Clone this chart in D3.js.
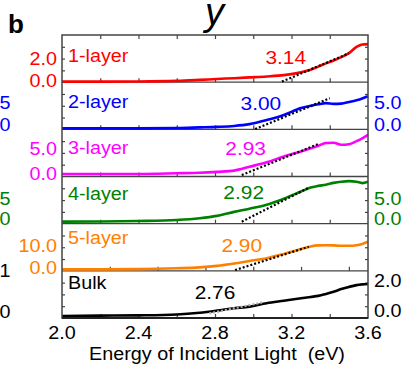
<!DOCTYPE html>
<html>
<head>
<meta charset="utf-8">
<script src="https://cdn.jsdelivr.net/npm/d3@7"></script>
<style>
  body { margin: 0; background: #fff; }
  text { font-family: "Liberation Sans", Arial, sans-serif; }
</style>
</head>
<body>
<div id="chart"></div>
<script>
// ---- data ----
const layers = ["1-layer", "2-layer", "3-layer", "4-layer", "5-layer", "Bulk"];
const colors = ["#ff0000", "#0000ff", "#ff00ff", "#008000", "#ff8000", "#000000"];

const energy = [2.0, 2.2, 2.4, 2.6, 2.72, 2.81, 2.9, 2.98, 3.07, 3.16, 3.25, 3.3, 3.34, 3.38, 3.42, 3.46, 3.5, 3.54, 3.57, 3.6];
const layer1 = [-0.05, -0.05, -0.04, 0.01, 0.1, 0.18, 0.25, 0.32, 0.4, 0.52, 0.78, 1.0, 1.27, 1.55, 1.8, 2.1, 2.45, 3.0, 3.22, 3.25];
const layer2 = [-0.74, -0.74, -0.74, -0.67, -0.52, -0.4, -0.2, 0.2, 1.12, 2.27, 3.8, 4.3, 4.65, 4.9, 4.75, 4.8, 5.15, 5.55, 5.95, 6.45];
const layer3 = [0, 0, 0, 0.14, 0.25, 0.42, 0.66, 1.4, 2.27, 3.4, 4.4, 5.0, 5.5, 6.05, 6.1, 5.7, 5.8, 6.4, 6.95, 7.6];
const layer4 = [-0.85, -0.8, -0.68, -0.43, 0, 0.6, 1.6, 2.4, 3.4, 4.9, 6.7, 7.7, 8.1, 8.4, 8.85, 9.15, 9.3, 9.15, 8.8, 9.15];
const layer5 = [-0.94, -0.94, -0.85, -0.45, 0, 0.7, 1.8, 3.0, 4.3, 6.3, 8.6, 9.8, 10.3, 10.4, 10.3, 10.1, 10.1, 10.4, 11.0, 12.0];
const bulk   = [-0.37, -0.35, -0.33, -0.27, -0.15, -0.01, 0.15, 0.26, 0.49, 0.66, 0.83, 0.92, 0.99, 1.12, 1.27, 1.45, 1.6, 1.72, 1.77, 1.8];
const series = [layer1, layer2, layer3, layer4, layer5, bulk];

// linear fits (band edge extrapolation): [[E, value], [E, value]]
const fitLines = [
  [[3.15, -0.05], [3.5, 2.44]],
  [[3.01, -0.9], [3.4, 6.0]],
  [[2.94, -0.19], [3.34, 5.84]],
  [[2.94, -0.85], [3.29, 7.65]],
  [[2.905, -1.27], [3.29, 9.67]],
  [[2.77, -0.2], [3.05, 0.55]]
];
const gapLabels = ["3.14", "3.00", "2.93", "2.92", "2.90", "2.76"];
const gapLabelAt = [[3.17, 1.5], [3.04, 3.36], [2.96, 3.7], [2.95, 4.75], [2.94, 7.3], [2.80, 0.76]];

const yDomains = [[-0.1, 4.05], [-0.96, 9.6], [-0.49, 8.7], [-1.35, 10.45], [-1.64, 20.5], [-0.51, 2.69]];
const yTickLabels = [[0, 2], [0, 5], [0, 5], [0, 5], [0, 10], [0, 2]];
const ySide = ["left", "right", "left", "right", "left", "right"];
const xTickLabels = [2.0, 2.4, 2.8, 3.2, 3.6];
const xTickStep = [0.2, 0.2, 0.2, 0.2, 0.25, 0.2];
// tick labels of the neighbouring panel, cut by the left edge
const cutTexts = [[], ["5", "0"], [], ["5", "0"], [], ["1", "0"]];
const cutValues = [[], [5, 0], [], [5, 0], [], [2.68, -0.08]];

// ---- layout ----
const W = 405, H = 366;
const pLeft = 62, pRight = 368, pTop = 35, pBottom = 318;
const ph = (pBottom - pTop) / 6;
const labelDy = [26.7, 25.8, 24.7, 23.5, 20.3, 18.2];
const sx = 1.13; // the figure's type is a little wide
const frame = "#444";

const svg = d3.select("#chart").append("svg").attr("width", W).attr("height", H);

const x = d3.scaleLinear().domain([2.0, 3.6]).range([pLeft, pRight]);

function txt(g, px, py, s, size, color, anchor, extra) {
  const t = g.append("text")
    .attr("transform", `translate(${px},${py}) scale(${sx},1)`)
    .attr("text-anchor", anchor)
    .attr("font-size", size)
    .attr("fill", color)
    .text(s);
  if (extra) extra(t);
  return t;
}

series.forEach((vals, i) => {
  const y0 = pTop + i * ph, y1 = pTop + (i + 1) * ph;
  const y = d3.scaleLinear().domain(yDomains[i]).range([y1, y0]);
  const g = svg.append("g");
  const dom = yDomains[i];
  const quarters = [0.25, 0.5, 0.75].map(f => dom[0] + f * (dom[1] - dom[0]));

  // side ticks, inward
  const la = g.append("g").attr("transform", `translate(${pLeft},0)`)
    .call(d3.axisLeft(y).tickValues(quarters).tickSize(-3).tickFormat(""));
  const ra = g.append("g").attr("transform", `translate(${pRight},0)`)
    .call(d3.axisRight(y).tickValues(quarters).tickSize(-3).tickFormat(""));
  [la, ra].forEach(a => { a.select(".domain").remove(); a.selectAll("line").attr("stroke", frame).attr("stroke-width", 1.2); });

  // x ticks on the bottom edge of the panel, pointing up
  const xt = d3.range(2.0 + xTickStep[i], 3.6 - 1e-6, xTickStep[i]);
  const ba = g.append("g").attr("transform", `translate(0,${y1})`)
    .call(d3.axisTop(x).tickValues(xt).tickSize(4).tickFormat(""));
  ba.select(".domain").remove();
  ba.selectAll("line").attr("stroke", frame).attr("stroke-width", 1.2);
  if (i === 0) {
    const ta = g.append("g").attr("transform", `translate(0,${y0})`)
      .call(d3.axisBottom(x).tickValues(xt).tickSize(4).tickFormat(""));
    ta.select(".domain").remove();
    ta.selectAll("line").attr("stroke", frame).attr("stroke-width", 1.2);
  }

  // separator
  if (i < 5) {
    g.append("line").attr("x1", pLeft).attr("x2", pRight).attr("y1", y1).attr("y2", y1)
      .attr("stroke", frame).attr("stroke-width", 1.3);
  }

  // curve
  const line = d3.line().x(d => x(d[0])).y(d => y(d[1])).curve(d3.curveMonotoneX);
  g.append("path").datum(energy.map((e, k) => [e, vals[k]]))
    .attr("fill", "none").attr("stroke", colors[i]).attr("stroke-width", 2.6)
    .attr("stroke-linejoin", "round").attr("d", line);

  // dotted fit
  g.append("path").datum(fitLines[i])
    .attr("fill", "none").attr("stroke", i === 5 ? "#b0b0b0" : "#000")
    .attr("stroke-width", 2.2).attr("stroke-dasharray", "2,2")
    .attr("d", d3.line().x(d => x(d[0])).y(d => y(d[1])));

  // texts
  txt(g, 68, y0 + labelDy[i], layers[i], 17.5, colors[i], "start");
  txt(g, x(gapLabelAt[i][0]), y(gapLabelAt[i][1]), gapLabels[i], 18.5, colors[i], "middle");

  yTickLabels[i].forEach(v => {
    const onLeft = ySide[i] === "left";
    txt(g, onLeft ? 57 : 374, y(v), d3.format(".1f")(v), 17.5, colors[i], onLeft ? "end" : "start",
      t => t.attr("dy", "0.36em"));
  });
  cutTexts[i].forEach((s, k) => {
    txt(g, 10.5, y(cutValues[i][k]), s, 17.5, colors[i], "end", t => t.attr("dy", "0.36em"));
  });
});

// outer frame
svg.append("rect").attr("x", pLeft).attr("y", pTop).attr("width", pRight - pLeft).attr("height", pBottom - pTop)
  .attr("fill", "none").attr("stroke", frame).attr("stroke-width", 1.5);
svg.append("line").attr("x1", pLeft).attr("x2", pRight).attr("y1", pBottom).attr("y2", pBottom)
  .attr("stroke", "#222").attr("stroke-width", 1.8);

// x tick labels
xTickLabels.forEach(v => txt(svg, x(v), 339, d3.format(".1f")(v), 17.5, "#000", "middle"));
txt(svg, 217, 360, "Energy of Incident Light  (eV)", 17.5, "#000", "middle",
  t => t.attr("xml:space", "preserve").style("white-space", "pre"));

// panel letter and title
svg.append("text").attr("x", 8).attr("y", 33).attr("font-size", 26).attr("font-weight", "bold")
  .attr("fill", "#000").text("b");
svg.append("text").attr("x", 205).attr("y", 25).attr("font-size", 38).attr("font-style", "italic")
  .attr("fill", "#000").text("y");
</script>
</body>
</html>
